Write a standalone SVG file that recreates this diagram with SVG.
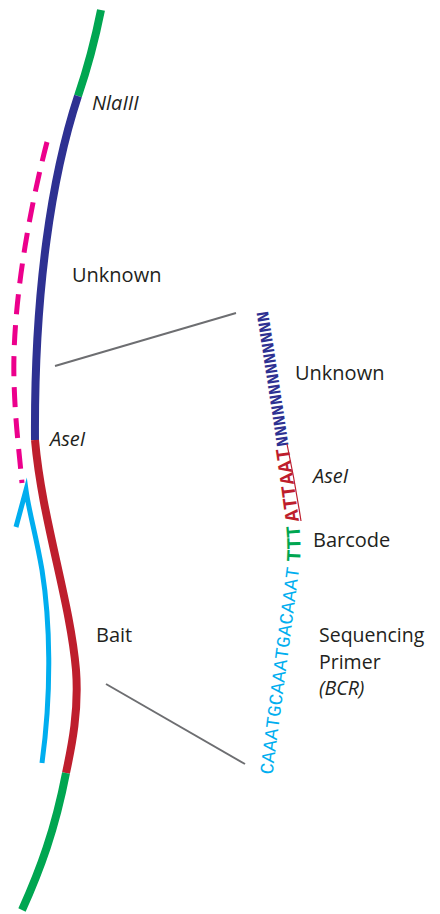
<svg xmlns="http://www.w3.org/2000/svg" width="440" height="914" viewBox="0 0 440 914">
<style>
.lbl{font-family:"Open Sans","Liberation Sans",sans-serif;font-size:20px;fill:#231f20}
.sm{font-size:19.5px}
.it{font-style:italic}
.strand{fill:none;stroke-width:8;stroke-linecap:butt}
.seq{font-family:"Liberation Mono","DejaVu Sans Mono",monospace}
.conn{stroke:#6d6e71;stroke-width:2;fill:none}
</style>
<defs>
<path id="seqpath" d="M 272,778 L 299,570 Q 302,548 299,522 Q 290,450 267,305"/>
</defs>
<g id="strand">
<path class="strand" stroke="#00a651" d="M 101,10 Q 92,55 78,96"/>
<path class="strand" stroke="#2e3192" d="M 78,96 C 52,175 34,290 35,440"/>
<path class="strand" stroke="#be1e2d" d="M 35,440 C 42,520 70,600 76,670 C 79,710 72,745 66,773"/>
<path class="strand" stroke="#00a651" d="M 66,773 C 55,830 40,870 22,910"/>
</g>
<g id="pink-read">
<path d="M 47,142 C 28,215 12,310 14,380 C 15,420 19,450 22,483" fill="none" stroke="#ec008c" stroke-width="5" stroke-dasharray="20 11"/>
</g>
<g id="primer-arrow">
<path d="M 42,763 C 52,690 50,620 42,570 C 36,535 29,512 26,490 L 16,527" fill="none" stroke="#00aeef" stroke-width="5" stroke-linejoin="miter" stroke-miterlimit="10"/>
</g>
<g id="labels-left">
<text class="lbl it" x="92" y="110">NlaIII</text>
<text class="lbl" x="72" y="282">Unknown</text>
<text class="lbl it" x="50" y="446">AseI</text>
<text class="lbl" x="96" y="642">Bait</text>
</g>
<g id="sequence">
<text class="seq" font-size="19" letter-spacing="0.2" fill="#00aeef"><textPath href="#seqpath" startOffset="3">CAAATGCAAATGACAAAT</textPath></text>
<text class="seq" font-size="20" font-weight="bold" letter-spacing="0.4" fill="#00a651"><textPath href="#seqpath" startOffset="218">TTT</textPath></text>
<text class="seq" font-size="20" font-weight="bold" letter-spacing="0.4" fill="#be1e2d"><textPath href="#seqpath" startOffset="259">ATTAAT</textPath></text>
<text class="seq" font-size="17.5" font-weight="bold" fill="#2e3192"><textPath href="#seqpath" startOffset="335">NNNNNNNNNNNNN</textPath></text>
<path d="M 301,521 Q 295,482 287,444" fill="none" stroke="#be1e2d" stroke-width="1.2"/>
</g>
<g id="labels-right">
<text class="lbl" x="295" y="380">Unknown</text>
<text class="lbl it" x="313" y="483">AseI</text>
<text class="lbl" x="313" y="547">Barcode</text>
<text class="lbl sm" x="319" y="642">Sequencing</text>
<text class="lbl sm" x="319" y="668.5">Primer</text>
<text class="lbl sm it" x="319" y="695">(BCR)</text>
</g>
<g id="connectors">
<line class="conn" x1="55" y1="366" x2="236" y2="313"/>
<line class="conn" x1="106" y1="684" x2="245" y2="764"/>
</g>
</svg>
